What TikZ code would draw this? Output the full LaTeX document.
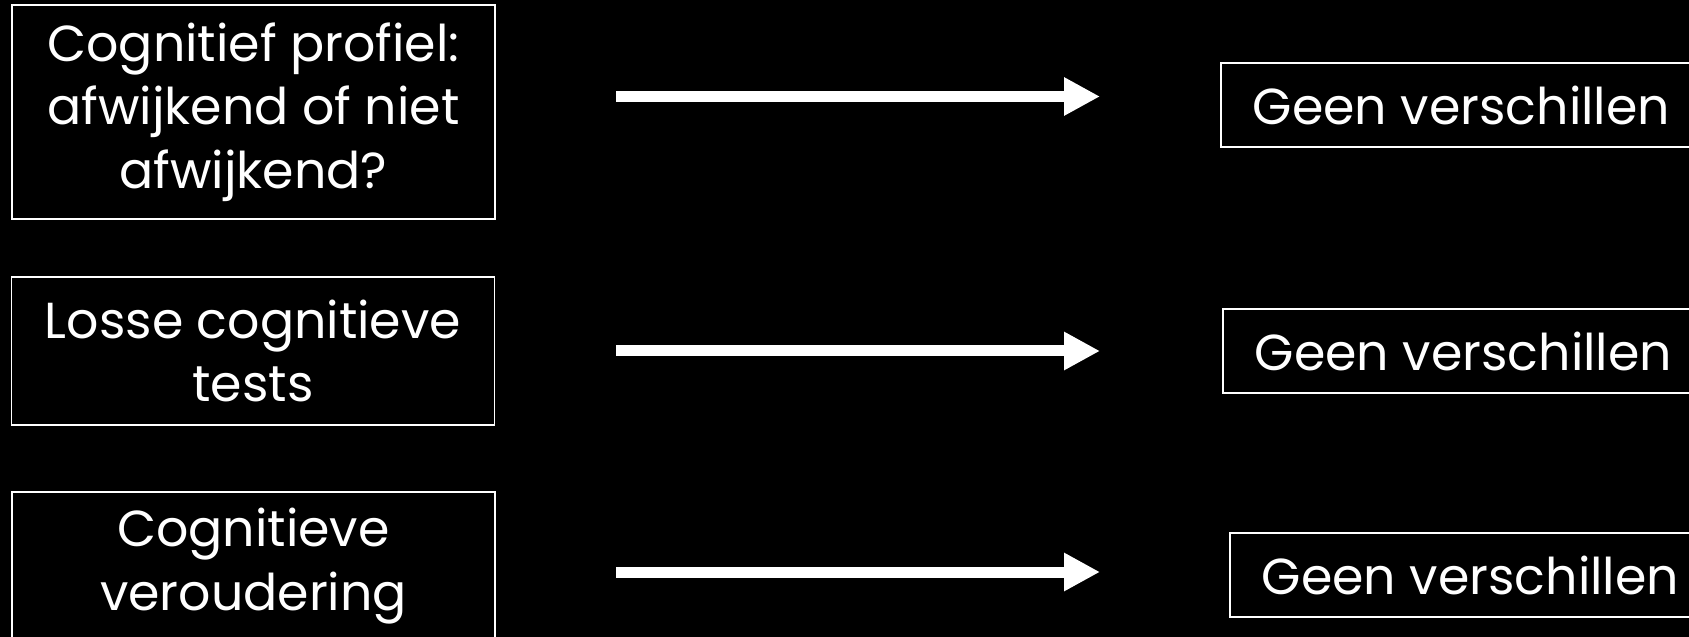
\documentclass[tikz,border=0pt]{standalone}
\usepackage{fontspec}
\setmainfont{Poppins}
\usetikzlibrary{arrows.meta}

\tikzset{
    kader/.style={draw=white, line width=1pt, text=white, align=center,
        font=\fontsize{28.8}{36}\selectfont, inner sep=0pt},
    linksbox/.style={kader, minimum width=9.66cm},
    rechtsbox/.style={kader, minimum width=9.62cm, minimum height=1.68cm},
    pijl/.style={white, line width=0.22cm,
        -{Triangle[length=0.72cm, width=0.72cm]}}
}

\begin{document}
\begin{tikzpicture}
    % achtergrond
    \useasboundingbox (0,0) rectangle (33.78,-12.74);
    \fill[black] (0,0) rectangle (33.78,-12.74);

    % links
    \node[linksbox, minimum height=4.28cm] (profiel) at (5.07,-2.24)
        {Cognitief profiel:\\afwijkend of niet\\afwijkend?};
    \node[linksbox, minimum height=2.96cm] (tests) at (5.06,-7.02)
        {Losse cognitieve\\tests};
    \node[linksbox, minimum height=2.96cm] (veroudering) at (5.07,-11.32)
        {Cognitieve\\veroudering};

    % rechts
    \node[rechtsbox] (geen1) at (29.23,-2.1) {Geen verschillen};
    \node[rechtsbox] (geen2) at (29.27,-7.02) {Geen verschillen};
    \node[rechtsbox] (geen3) at (29.41,-11.5) {Geen verschillen};

    % pijlen
    \coordinate (start1) at (12.32,-1.93);
    \coordinate (eind1) at (22.0,-1.93);
    \coordinate (start2) at (12.32,-7.02);
    \coordinate (eind2) at (22.0,-7.02);
    \coordinate (start3) at (12.32,-11.44);
    \coordinate (eind3) at (22.0,-11.44);
    \draw[pijl] (start1) -- (eind1);
    \draw[pijl] (start2) -- (eind2);
    \draw[pijl] (start3) -- (eind3);
\end{tikzpicture}
\end{document}
